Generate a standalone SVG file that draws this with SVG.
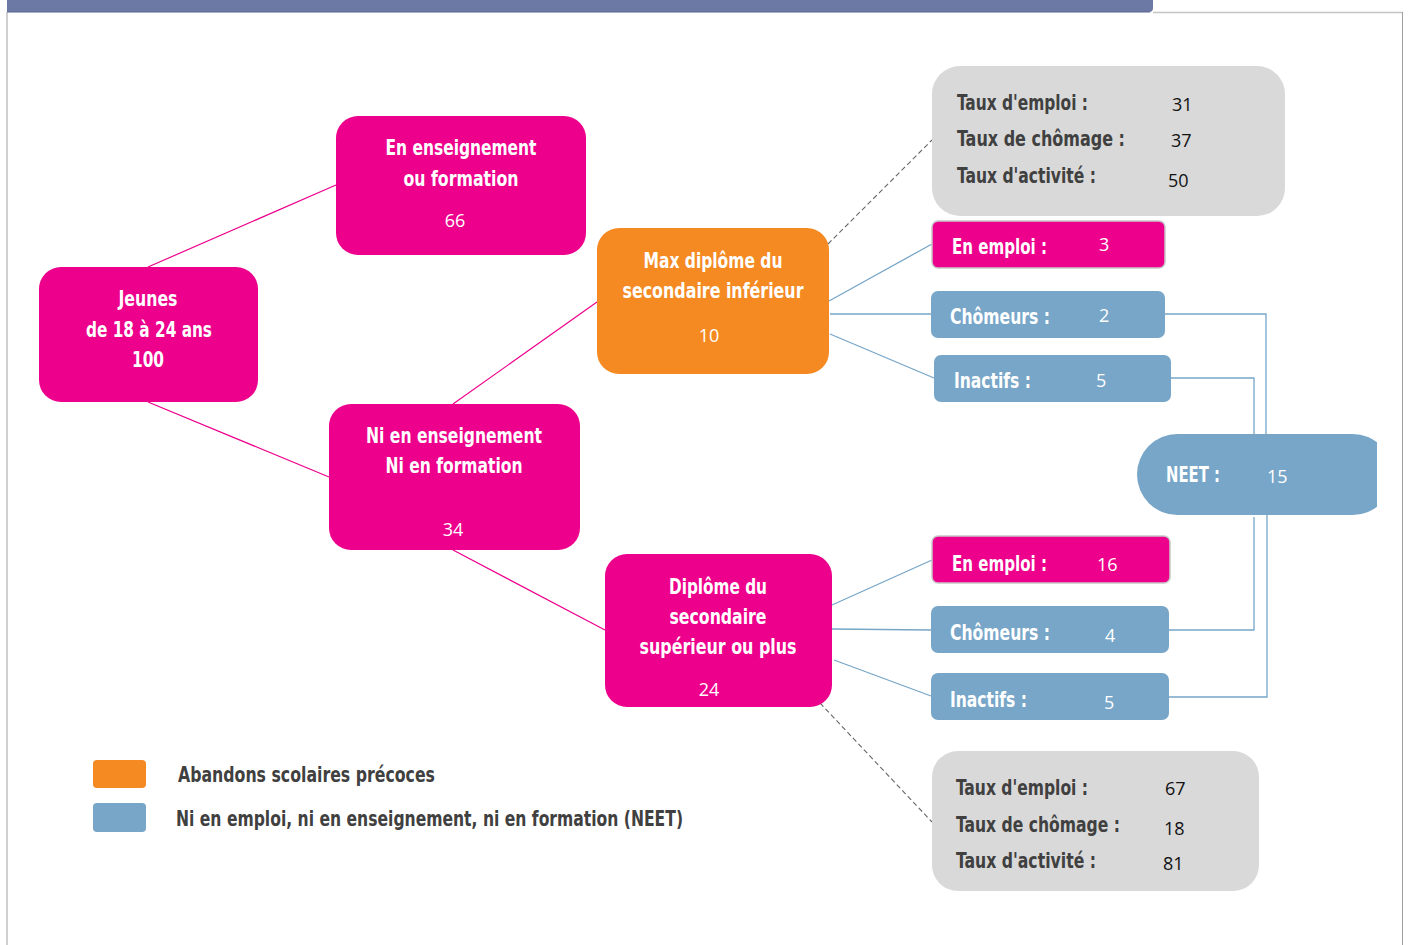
<svg xmlns="http://www.w3.org/2000/svg" width="1408" height="945" viewBox="0 0 1408 945">
<style>
.t{font-family:"DejaVu Sans Condensed","DejaVu Sans",sans-serif;font-weight:bold;font-size:21px;fill:#fff}
.g{fill:#404040}
.n{font-family:"Open Sans","Noto Sans",sans-serif;font-size:18px;fill:#fff}
.k{fill:#111}
.pink{fill:#ec008c}
.orange{fill:#f58a22}
.blue{fill:#77a6c8}
.grey{fill:#d9d9d9}
.pl{stroke:#ec008c;stroke-width:1.2;fill:none}
.bl{stroke:#77a6c8;stroke-width:1.3;fill:none}
.dl{stroke:#666;stroke-width:1.1;stroke-dasharray:5 3;fill:none}
</style>
<defs>
<clipPath id="neetclip"><rect x="1130" y="425" width="247" height="100"/></clipPath>
</defs>
<rect x="0" y="0" width="1408" height="945" fill="#fff"/>
<g id="frame">
<path d="M7,0 H1153 V8 Q1153,12 1149,12 H7 Z" fill="#6d79a5"/>
<line x1="7" y1="12" x2="1150" y2="12" stroke="#59648f" stroke-width="1"/>
<line x1="1153" y1="12.5" x2="1403" y2="12.5" stroke="#c4c4c4" stroke-width="1.5"/>
<line x1="7" y1="12" x2="7" y2="945" stroke="#a0a0a0" stroke-width="1"/>
<line x1="1402.5" y1="12" x2="1402.5" y2="945" stroke="#a0a0a0" stroke-width="1"/>
</g>
<g id="connectors">
<line class="pl" x1="148" y1="267" x2="336" y2="185"/>
<line class="pl" x1="148" y1="402" x2="329" y2="477"/>
<line class="pl" x1="453" y1="404" x2="597" y2="302"/>
<line class="pl" x1="453" y1="550" x2="605" y2="630"/>
<line class="bl" x1="829" y1="301" x2="932" y2="244"/>
<line class="bl" x1="830" y1="314" x2="931" y2="314"/>
<line class="bl" x1="830" y1="334" x2="934" y2="378"/>
<line class="bl" x1="832" y1="605" x2="932" y2="560"/>
<line class="bl" x1="832" y1="629" x2="931" y2="630"/>
<line class="bl" x1="834" y1="660" x2="931" y2="696"/>
<polyline class="bl" points="1165,314 1266,314 1266,434"/>
<polyline class="bl" points="1171,378 1254,378 1254,434"/>
<polyline class="bl" points="1254,517 1254,630 1169,630"/>
<polyline class="bl" points="1267,515 1267,697 1169,697"/>
<line class="dl" x1="828" y1="244" x2="932" y2="140"/>
<line class="dl" x1="820" y1="703" x2="932" y2="822"/>
</g>
<g id="jeunes">
<rect class="pink" x="39" y="267" width="219" height="135" rx="22"/>
<text class="t" x="148" y="306" text-anchor="middle" textLength="59" lengthAdjust="spacingAndGlyphs">Jeunes</text>
<text class="t" x="149" y="337" text-anchor="middle" textLength="126" lengthAdjust="spacingAndGlyphs">de 18 à 24 ans</text>
<text class="t" x="148" y="367" text-anchor="middle" textLength="32" lengthAdjust="spacingAndGlyphs">100</text>
</g>
<g id="en-enseignement">
<rect class="pink" x="336" y="116" width="250" height="139" rx="22"/>
<text class="t" x="461" y="155" text-anchor="middle" textLength="151" lengthAdjust="spacingAndGlyphs">En enseignement</text>
<text class="t" x="461" y="186" text-anchor="middle" textLength="115" lengthAdjust="spacingAndGlyphs">ou formation</text>
<text class="n" x="455" y="227" text-anchor="middle">66</text>
</g>
<g id="ni-enseignement">
<rect class="pink" x="329" y="404" width="251" height="146" rx="22"/>
<text class="t" x="454" y="443" text-anchor="middle" textLength="176" lengthAdjust="spacingAndGlyphs">Ni en enseignement</text>
<text class="t" x="454" y="473" text-anchor="middle" textLength="137" lengthAdjust="spacingAndGlyphs">Ni en formation</text>
<text class="n" x="453" y="536" text-anchor="middle">34</text>
</g>
<g id="max-diplome">
<rect class="orange" x="597" y="228" width="232" height="146" rx="22"/>
<text class="t" x="713" y="268" text-anchor="middle" textLength="139" lengthAdjust="spacingAndGlyphs">Max diplôme du</text>
<text class="t" x="713" y="298" text-anchor="middle" textLength="181" lengthAdjust="spacingAndGlyphs">secondaire inférieur</text>
<text class="n" x="709" y="342" text-anchor="middle">10</text>
</g>
<g id="diplome-superieur">
<rect class="pink" x="605" y="554" width="227" height="153" rx="22"/>
<text class="t" x="718" y="594" text-anchor="middle" textLength="98" lengthAdjust="spacingAndGlyphs">Diplôme du</text>
<text class="t" x="718" y="624" text-anchor="middle" textLength="97" lengthAdjust="spacingAndGlyphs">secondaire</text>
<text class="t" x="718" y="654" text-anchor="middle" textLength="157" lengthAdjust="spacingAndGlyphs">supérieur ou plus</text>
<text class="n" x="709" y="696" text-anchor="middle">24</text>
</g>
<g id="taux-1">
<rect class="grey" x="932" y="66" width="353" height="150" rx="28"/>
<text class="t g" x="957" y="110" textLength="131" lengthAdjust="spacingAndGlyphs">Taux d'emploi :</text>
<text class="t g" x="957" y="146" textLength="168" lengthAdjust="spacingAndGlyphs">Taux de chômage  :</text>
<text class="t g" x="957" y="183" textLength="139" lengthAdjust="spacingAndGlyphs">Taux d'activité :</text>
<text class="n k" x="1172" y="111">31</text>
<text class="n k" x="1171" y="147">37</text>
<text class="n k" x="1168" y="187">50</text>
</g>
<g id="emploi-1">
<rect class="pink" x="932" y="221" width="233" height="47" rx="6" stroke="#c8c8c8" stroke-width="1.5"/>
<text class="t" x="952" y="254" textLength="95" lengthAdjust="spacingAndGlyphs">En emploi :</text>
<text class="n" x="1099" y="251">3</text>
</g>
<g id="chomeurs-1">
<rect class="blue" x="931" y="291" width="234" height="47" rx="7"/>
<text class="t" x="950" y="324" textLength="100" lengthAdjust="spacingAndGlyphs">Chômeurs :</text>
<text class="n" x="1099" y="322">2</text>
</g>
<g id="inactifs-1">
<rect class="blue" x="934" y="355" width="237" height="47" rx="7"/>
<text class="t" x="954" y="388" textLength="77" lengthAdjust="spacingAndGlyphs">Inactifs :</text>
<text class="n" x="1096" y="387">5</text>
</g>
<g id="neet">
<rect class="blue" x="1137" y="434" width="256" height="81" rx="40.5" clip-path="url(#neetclip)"/>
<text class="t" x="1166" y="482" textLength="54" lengthAdjust="spacingAndGlyphs">NEET :</text>
<text class="n" x="1267" y="483">15</text>
</g>
<g id="emploi-2">
<rect class="pink" x="932" y="536" width="238" height="47" rx="6" stroke="#c8c8c8" stroke-width="1.5"/>
<text class="t" x="952" y="571" textLength="95" lengthAdjust="spacingAndGlyphs">En emploi :</text>
<text class="n" x="1097" y="571">16</text>
</g>
<g id="chomeurs-2">
<rect class="blue" x="931" y="606" width="238" height="47" rx="7"/>
<text class="t" x="950" y="640" textLength="100" lengthAdjust="spacingAndGlyphs">Chômeurs :</text>
<text class="n" x="1105" y="642">4</text>
</g>
<g id="inactifs-2">
<rect class="blue" x="931" y="673" width="238" height="47" rx="7"/>
<text class="t" x="950" y="707" textLength="77" lengthAdjust="spacingAndGlyphs">Inactifs :</text>
<text class="n" x="1104" y="709">5</text>
</g>
<g id="taux-2">
<rect class="grey" x="932" y="751" width="327" height="140" rx="26"/>
<text class="t g" x="956" y="795" textLength="132" lengthAdjust="spacingAndGlyphs">Taux d'emploi :</text>
<text class="t g" x="956" y="832" textLength="164" lengthAdjust="spacingAndGlyphs">Taux de chômage :</text>
<text class="t g" x="956" y="868" textLength="140" lengthAdjust="spacingAndGlyphs">Taux d'activité :</text>
<text class="n k" x="1165" y="795">67</text>
<text class="n k" x="1164" y="835">18</text>
<text class="n k" x="1163" y="870">81</text>
</g>
<g id="legend">
<rect class="orange" x="93" y="760" width="53" height="28" rx="4"/>
<rect class="blue" x="93" y="803" width="53" height="29" rx="4"/>
<text class="t g" x="178" y="782" textLength="257" lengthAdjust="spacingAndGlyphs">Abandons scolaires précoces</text>
<text class="t g" x="176" y="826" textLength="507" lengthAdjust="spacingAndGlyphs">Ni en emploi, ni en enseignement, ni en formation (NEET)</text>
</g>
</svg>
